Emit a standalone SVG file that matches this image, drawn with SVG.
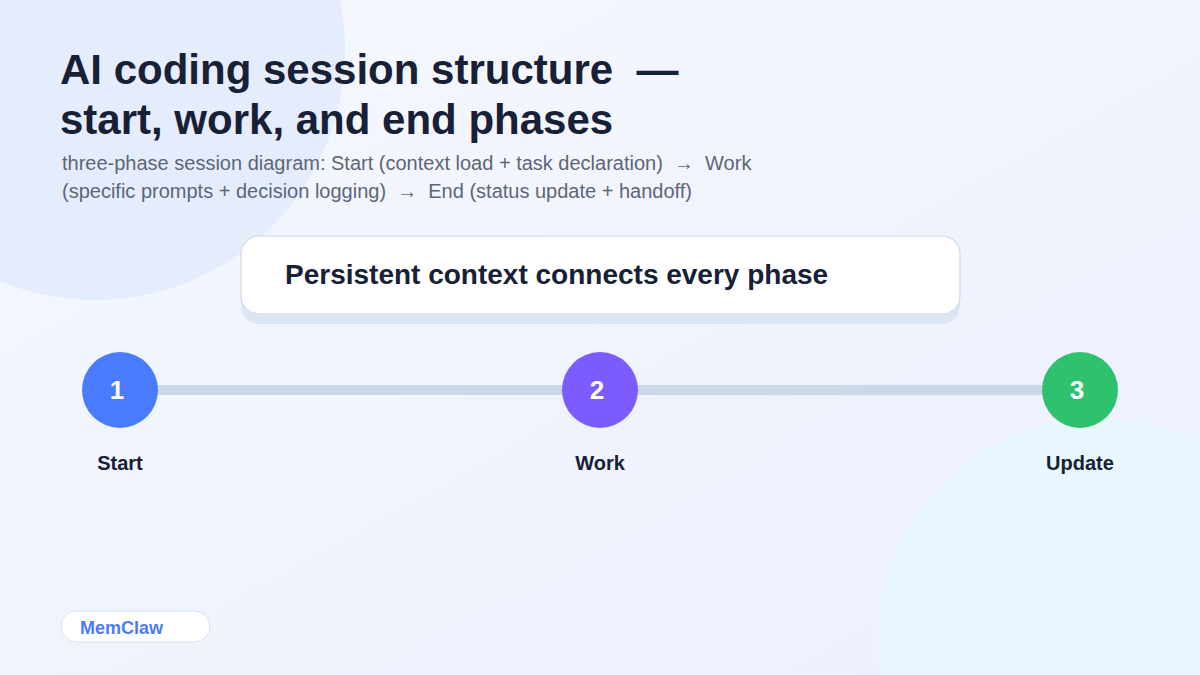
<svg xmlns="http://www.w3.org/2000/svg" width="1200" height="675" viewBox="0 0 1200 675">
<defs>
<linearGradient id="bg" x1="0" y1="0" x2="1" y2="1">
<stop offset="0" stop-color="#f5f8fe"/>
<stop offset="1" stop-color="#ecf0fc"/>
</linearGradient>
<style>
text{white-space:pre}
.t{font-family:"Liberation Sans",Arial,sans-serif;font-weight:700;fill:#172036}
.sub{font-family:"Liberation Sans",Arial,sans-serif;font-size:20px;fill:#5d6678}
.num{font-family:"Liberation Sans",Arial,sans-serif;font-weight:700;font-size:26px;fill:#ffffff}
.lbl{font-family:"Liberation Sans",Arial,sans-serif;font-weight:700;font-size:20px;fill:#172036}
</style>
</defs>
<rect width="1200" height="675" fill="url(#bg)"/>
<circle cx="95" cy="50" r="250" fill="#e5edfd"/>
<circle cx="1100" cy="640" r="222" fill="#e8f7fe"/>
<g id="title">
<text class="t" x="60" y="84" font-size="42">AI coding session structure  —</text>
<text class="t" x="60" y="134" font-size="42">start, work, and end phases</text>
<text class="sub" x="62" y="170">three-phase session diagram: Start (context load + task declaration)  →  Work</text>
<text class="sub" x="62" y="198">(specific prompts + decision logging)  →  End (status update + handoff)</text>
</g>
<g id="banner">
<rect x="241" y="244" width="719" height="80" rx="18" fill="#dbe5f4"/>
<rect x="241" y="236" width="719" height="78" rx="18" fill="#ffffff" stroke="#d6e0ef" stroke-width="1.5"/>
<text class="t" x="285" y="284" font-size="28">Persistent context connects every phase</text>
</g>
<g id="connectors">
<rect x="120" y="385" width="960" height="10" fill="#cbd7e8"/>
</g>
<g id="node-start">
<circle cx="120" cy="390" r="38" fill="#4a7bff"/>
<text class="num" x="117" y="399" text-anchor="middle">1</text>
<text class="lbl" x="120" y="470" text-anchor="middle">Start</text>
</g>
<g id="node-work">
<circle cx="600" cy="390" r="38" fill="#7c5cff"/>
<text class="num" x="597" y="399" text-anchor="middle">2</text>
<text class="lbl" x="600" y="470" text-anchor="middle">Work</text>
</g>
<g id="node-update">
<circle cx="1080" cy="390" r="38" fill="#2ec26f"/>
<text class="num" x="1077" y="399" text-anchor="middle">3</text>
<text class="lbl" x="1080" y="470" text-anchor="middle">Update</text>
</g>
<g id="brand">
<rect x="61" y="611" width="149" height="31" rx="15.5" fill="#ffffff" stroke="#d6e0ef"/>
<text x="80" y="634" font-family="Liberation Sans, Arial, sans-serif" font-weight="700" font-size="18" fill="#4a7bf7">MemClaw</text>
</g>
</svg>
